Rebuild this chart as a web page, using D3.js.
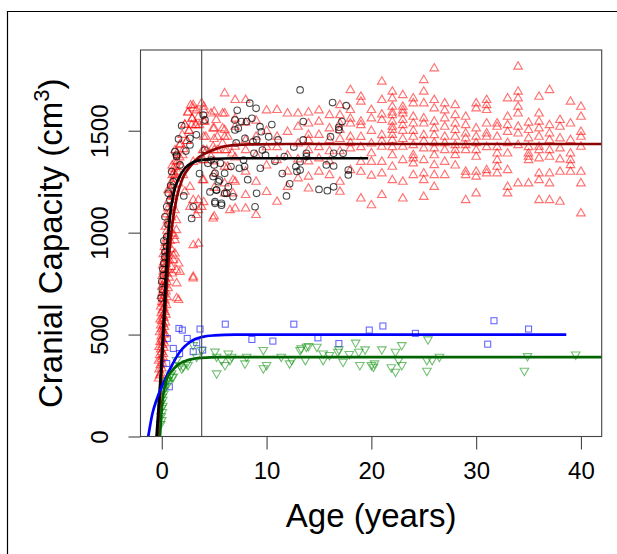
<!DOCTYPE html>
<html>
<head>
<meta charset="utf-8">
<script src="https://d3js.org/d3.v7.min.js"></script>
<style>
  body { margin: 0; background: #fff; }
  svg { display: block; font-family: "Liberation Sans", Arial, Helvetica, sans-serif; }
</style>
</head>
<body>
<div id="viz"></div>
<script>
// ---- data: [age in years, cranial capacity in cm3] ----

// modern humans, fetal / infant strip
var humanYoung = [
  [-0.3,285],[-0.2,300],[-0.1,310],[-0.25,330],[0,335],[-0.15,350],[0.05,360],[-0.3,372],[-0.05,380],[0.1,390],
  [-0.2,400],[0.15,405],[0,415],[-0.1,428],[0.2,435],[-0.25,440],[0.05,450],[0.25,458],[-0.15,465],[0.1,472],
  [0,480],[-0.05,492],[0.2,500],[0.3,505],[-0.2,512],[0.1,520],[0,530],[0.25,538],[-0.1,545],[0.15,552],
  [0.35,560],[0,568],[-0.15,575],[0.2,582],[0.1,590],[0.4,598],[-0.05,605],[0.3,612],[0.05,620],[0.2,630],
  [-0.1,638],[0.45,645],[0.15,652],[0,660],[0.3,668],[0.1,676],[0.5,684],[-0.05,690],[0.25,698],[0.05,705],
  [0.4,712],[0.15,720],[0.6,728],[0,735],[0.3,742],[0.2,750],[0.5,758],[0.1,765],[0.35,772],[0.7,780],
  [0.05,788],[0.25,795],[0.45,802],[0.15,810],[0.6,818],[0.3,825],[0.9,832],[0.1,840],[0.4,848],[0.2,856],
  [0.75,864],[0.5,872],[0.3,880],[1.1,888],[0.15,895],[0.6,903],[0.4,912],[0.9,920],[0.25,930],[0.55,940],
  [0.35,950],[0.8,960],[0.45,972],[1.2,985],[0.6,995],
  [0.5,1010],[0.35,1030],[0.7,1045],[0.55,1060],[0.9,1075],[0.45,1090],[0.8,1105],[0.6,1120],[1.0,1140],
  [0.7,1160],[0.9,1180],[1.2,1195],[0.8,1215],[1.1,1235],[0.95,1250],[1.3,1265],[1.15,1290],[1.5,1300],
  [1.0,1330],[1.3,1350],[1.7,1370],[1.45,1390],[2.1,1410],[1.8,1435],[2.4,1450],[1.95,1480],[2.6,1500],
  [2.2,1530],[2.9,1560],[2.5,1590],[3.3,1600],[2.75,1625]
];

// modern humans, toddlers to ~7 years (ages not on whole years)
var humanChild = [
  [3.0,1626],[3.0,1610],[2.85,1528],[3.3,1528],[1.26,1405],[1.1,1315],[1.4,1324],[1.9,1324],[3.0,1348],
  [1.0,1283],[1.3,1283],[1.6,1242],[2.05,1283],[2.2,1201],[2.7,1225],[2.7,1127],[3.0,1160],[3.5,1160],
  [3.5,1111],[3.8,1127],[3.3,1087],[4.9,1070],[3.0,939],[3.5,947],[3.0,784],[0.6,1209],[1.1,1176],
  [1.26,1111],[1.4,1062],[1.4,1013],[1.0,996],[1.26,964],[1.26,898],[1.1,866],[1.4,816],[1.0,800],
  [1.74,808],[1.6,849],[3.8,1635],[3.5,1569],[4.7,1585],[5.2,1553],[5.8,1585],[5.8,1512],[5.3,1471],
  [4.9,1422],[5.8,1438],[6.3,1471],[4.9,1512],[4.2,1471],[4.1,1545],[4.3,1405],[4.7,1373],[5.3,1405],
  [6.2,1405],[6.7,1389],[6.3,1324],[6.8,1258],[6.8,1193],[6.5,1111],[3.2,1528],[3.6,1528],[3.9,1405],
  [3.9,1356],[3.9,1258],[1.42,752],[1.42,679],[1.6,670],[3.0,776],[2.0,1380],[2.4,1450],[2.6,1500],
  [2.2,1530],[2.9,1560],[2.5,1590],[1.7,1430],[1.5,1350]
];

// modern humans recorded at whole years: [age, [capacities]]
var humanByYear = [
  [4,[1618,1602,1545,1471,1405,1356,1258,1150]],
  [5,[1594,1512,1405,1291,1350,1460,1220,1080]],
  [6,[1684,1585,1504,1471,1405,1242,1324,1193]],
  [7,[1651,1520,1422,1250,1119,1370,1560]],
  [8,[1651,1455,1405,1185,1119,1300,1540]],
  [9,[1471,1087,1380,1550,1250]],
  [10,[1500,1420,1330,1600,1200]],
  [11,[1602,1471,1356,1152,1420]],
  [12,[1585,1495,1225,1380,1300]],
  [13,[1585,1438,1267,1520,1360]],
  [14,[1536,1480,1455,1405,1350,1275,1217,1590]],
  [15,[1545,1480,1420,1365,1300,1600]],
  [16,[1577,1512,1455,1400,1283,1350]],
  [17,[1626,1577,1536,1504,1460,1400,1250,1201]],
  [18,[1700,1602,1536,1471,1414,1307,1440,1560]],
  [19,[1667,1643,1545,1528,1470,1348,1299,1168,1420]],
  [20,[1602,1561,1500,1438,1390,1348,1135,1280]],
  [21,[1741,1651,1580,1553,1479,1450,1422,1348,1291,1185]],
  [22,[1692,1659,1618,1590,1577,1545,1520,1504,1480,1455,1420,1324,1258,1380]],
  [23,[1675,1618,1600,1585,1553,1528,1500,1422,1356,1250,1168,1460]],
  [24,[1659,1635,1569,1536,1500,1471,1381,1365,1340,1283,1430]],
  [25,[1749,1692,1635,1561,1536,1479,1450,1414,1356,1291,1258,1176]],
  [26,[1806,1651,1610,1545,1512,1479,1440,1414,1332,1283,1225,1380]],
  [27,[1635,1600,1561,1520,1471,1440,1405,1348,1283]],
  [28,[1626,1577,1536,1504,1471,1430,1405,1381,1330]],
  [29,[1569,1528,1487,1463,1430,1405,1299,1283,1160]],
  [30,[1635,1610,1512,1471,1405,1373,1299,1275,1193,1440]],
  [31,[1651,1626,1602,1536,1487,1471,1420,1307,1291]],
  [32,[1536,1520,1471,1420,1389,1356,1324,1291]],
  [33,[1659,1569,1528,1495,1440,1389,1307,1225,1193]],
  [34,[1815,1692,1659,1618,1585,1520,1487,1430,1242]],
  [35,[1504,1463,1420,1389,1373,1356,1242,1540]],
  [36,[1667,1585,1545,1512,1471,1422,1405,1365,1291,1258,1160]],
  [37,[1700,1528,1487,1455,1405,1373,1291,1242,1160]],
  [38,[1553,1520,1463,1414,1360,1299,1152]],
  [39,[1643,1536,1455,1389,1356,1332,1299]],
  [40,[1618,1569,1495,1471,1422,1299,1242,1095]]
];

// black circles
var neanderthals = [
  [1.9,1525],[2.69,1463],[2.69,1430],[1.26,1397],[1.42,1381],[1.42,1373],[1.74,1332],[0.94,1300],[0.62,1193],
  [0.78,1160],[0.47,1127],[0.3,1078],[0.47,980],[0.47,931],[0.3,906],[0.3,882],[0.2,850],[0.1,820],[0.15,790],
  [0,760],[0.05,720],[-0.05,680],[0.2,960],[0.6,1040],[0.85,1230],[1.1,1250],[2.85,1070],[3.0,1127],
  [5.08,1152],[5.7,1144],[5.24,1209],[6.2,1193],[4.9,1275],[5.5,1258],[6.35,1225],[3.96,1577],[4.12,1553],
  [6.98,1553],[7.6,1545],[8.1,1545],[8.6,1561],[7.3,1512],[6.98,1504],[9.37,1520],[9.5,1495],[9.05,1455],
  [7.94,1463],[8.7,1446],[9.6,1405],[8.8,1389],[13.2,1700],[13.5,1545],[8.4,1635],[7.2,1600],[9.0,1610],
  [5.08,1291],[5.2,1209],[6.0,1193],[6.8,1176],[5.08,1144],[5.7,1135],[9.05,1193],[8.9,1127],[5.4,1250],
  [6.0,1291],[6.6,1324],[7.4,1316],[7.9,1324],[9.4,1316],[7.8,1356],[5.6,1340],[5.0,1332],[4.7,1356],
  [4.1,1405],[11.1,1455],[11.7,1373],[12.8,1324],[13.5,1455],[13.8,1389],[16.3,1638],[17.6,1623],
  [17.2,1545],[16.9,1517],[16.9,1504],[16.1,1471],[13.8,1373],[16.4,1389],[17.3,1389],[15.7,1332],
  [16.4,1327],[17.8,1307],[17.8,1283],[15.0,1212],[15.8,1206],[16.4,1225],[13.2,1348],[13.2,1307],
  [10.2,1470],[10.8,1350],[11.5,1290],[12.2,1240],[12.6,1420],[10.5,1530],[11.9,1180],[12.9,1300],
  [2.3,1400],[3.3,1480],[4.4,1340],[4.6,1200],[7.1,1440],[8.2,1260],[9.9,1380],[1.6,1460],[2.1,1180],[3.6,1290]
];

// blue squares
var blueSquares = [
  [1.64,530],[1.96,522],[0.53,481],[1.1,432],[2.43,481],[3.33,460],[3.65,527],[6.06,551],[3.0,416],[3.9,424],
  [1.7,407],[0.72,244],[0.47,358],[8.6,476],[10.6,468],[12.6,551],[14.9,484],[16.9,456],[19.8,522],
  [21.1,542],[24.2,506],[31.7,568],[31.1,453],[35.0,527]
];

// green inverted triangles
var greenTris = [
  [-0.1,60],[0,80],[-0.05,100],[0.05,120],[0,140],[0.1,150],[-0.05,165],[0.1,180],[0.05,195],[0.2,210],
  [0.15,225],[0.3,240],[0.25,255],[0.4,270],[0.6,276],[0.8,300],[1.0,290],[1.9,333],[2.5,350],
  [3.8,424],[5.08,416],[5.24,391],[6.35,407],[6.67,391],[5.71,375],[6.03,350],[5.24,309],[6.5,375],
  [7.94,358],[9.69,424],[10.0,350],[9.69,334],[11.4,391],[12.2,358],[12.4,375],[13.2,424],[13.8,440],
  [8.1,391],[1.42,375],[2.05,342],[1.1,293],[0.94,309],[0.62,260],[1.74,350],[2.38,358],[3.0,448],
  [3.33,391],[13.3,432],[14.0,443],[14.8,440],[13.7,375],[15.4,407],[15.4,375],[16.0,399],[16.9,427],
  [16.8,415],[17.3,366],[17.9,404],[18.5,460],[18.8,415],[18.9,350],[19.4,427],[20.0,350],[20.2,342],
  [20.3,358],[21.0,427],[21.9,339],[22.3,317],[22.3,415],[22.6,375],[22.9,448],[22.9,350],[25.3,375],
  [25.3,322],[25.8,375],[25.4,476],[26.5,391],[34.6,322],[34.9,394],[39.5,402]
];

// fitted growth curves, traced point by point
var humanFit = [[-0.39,0],[0.05,380],[0.55,800],[1.0,1040],[1.42,1170],[2.0,1268],[2.69,1323],[3.5,1368],
  [4.28,1392],[5.2,1412],[6.19,1425],[8.4,1433],[12,1435],[42,1435]];
var neanderFit = [[-0.5,0],[0,390],[0.38,768],[0.62,990],[1.1,1185],[1.58,1262],[2.21,1316],[3,1345],
  [3.65,1356],[5,1362],[6.8,1365],[19.7,1365]];
var blueFit = [[-1.29,0],[-0.9,110],[-0.5,180],[0,245],[0.5,300],[1,352],[1.5,398],[2,432],[2.6,460],
  [3.2,478],[3.9,489],[5,496],[7,500],[38.6,500]];
var greenFit = [[-0.17,0],[-0.05,100],[0.1,190],[0.3,250],[0.5,285],[0.94,320],[1.5,350],[2.5,375],
  [3.8,386],[5.5,389],[42,389]];

var cutoffAge = 3.81;
var xTicks = [0, 10, 20, 30, 40],
    yTicks = [0, 500, 1000, 1500];

// ---- drawing ----
var width = 617, height = 554,
    plotLeft = 140.5, plotRight = 601.7, plotTop = 50, plotBottom = 436.5;

var humans = humanYoung.concat(humanChild);
humanByYear.forEach(function(d) {
  d[1].forEach(function(v) { humans.push([d[0], v]); });
});

var x = d3.scaleLinear().domain([-2.03, 41.98]).range([plotLeft, plotRight]);
var y = d3.scaleLinear().domain([0, 1896]).range([plotBottom, plotTop]);

var svg = d3.select('#viz').append('svg')
  .attr('width', width)
  .attr('height', height);

// outer figure frame (only left and top edges show)
svg.append('line').attr('x1', 7.5).attr('x2', 7.5).attr('y1', 11).attr('y2', height)
  .attr('stroke', '#000').attr('stroke-width', 1.2);
svg.append('line').attr('x1', 7).attr('x2', width).attr('y1', 11.5).attr('y2', 11.5)
  .attr('stroke', '#000').attr('stroke-width', 1.2);

svg.append('clipPath').attr('id', 'plotclip')
  .append('rect')
  .attr('x', plotLeft).attr('y', plotTop)
  .attr('width', plotRight - plotLeft).attr('height', plotBottom - plotTop);

var plot = svg.append('g').attr('clip-path', 'url(#plotclip)');

var triUp = 'M0,-4.8L4.3,2.6L-4.3,2.6Z',
    triDown = 'M0,4.8L4.3,-2.6L-4.3,-2.6Z';

plot.append('g').selectAll('path').data(humans)
  .enter().append('path')
    .attr('d', triUp)
    .attr('transform', function(d) { return 'translate(' + x(d[0]) + ',' + y(d[1]) + ')'; })
    .attr('fill', 'none')
    .attr('stroke', 'rgba(255,0,0,0.55)')
    .attr('stroke-width', 1.15);

plot.append('g').selectAll('circle').data(neanderthals)
  .enter().append('circle')
    .attr('cx', function(d) { return x(d[0]); })
    .attr('cy', function(d) { return y(d[1]); })
    .attr('r', 3.3)
    .attr('fill', 'none')
    .attr('stroke', 'rgba(0,0,0,0.7)')
    .attr('stroke-width', 1.1);

plot.append('g').selectAll('rect').data(blueSquares)
  .enter().append('rect')
    .attr('x', function(d) { return x(d[0]) - 3; })
    .attr('y', function(d) { return y(d[1]) - 3; })
    .attr('width', 6)
    .attr('height', 6)
    .attr('fill', 'none')
    .attr('stroke', 'rgba(0,0,255,0.6)')
    .attr('stroke-width', 1.1);

plot.append('g').selectAll('path').data(greenTris)
  .enter().append('path')
    .attr('d', triDown)
    .attr('transform', function(d) { return 'translate(' + x(d[0]) + ',' + y(d[1]) + ')'; })
    .attr('fill', 'none')
    .attr('stroke', 'rgba(0,140,0,0.55)')
    .attr('stroke-width', 1.1);

var line = d3.line()
  .x(function(d) { return x(d[0]); })
  .y(function(d) { return y(d[1]); })
  .curve(d3.curveMonotoneX);

var fits = [
  { pts: humanFit, color: '#8b0000' },
  { pts: neanderFit, color: '#000000' },
  { pts: blueFit, color: '#0000ff' },
  { pts: greenFit, color: '#006400' }
];

plot.selectAll('.fit').data(fits)
  .enter().append('path')
    .attr('class', 'fit')
    .attr('d', function(d) { return line(d.pts); })
    .attr('fill', 'none')
    .attr('stroke', function(d) { return d.color; })
    .attr('stroke-width', 2.7);

// vertical cut-off line
svg.append('line')
  .attr('x1', x(cutoffAge)).attr('x2', x(cutoffAge))
  .attr('y1', plotTop).attr('y2', plotBottom)
  .attr('stroke', '#444').attr('stroke-width', 1.1);

// plot box
svg.append('rect')
  .attr('x', plotLeft).attr('y', plotTop)
  .attr('width', plotRight - plotLeft).attr('height', plotBottom - plotTop)
  .attr('fill', 'none')
  .attr('stroke', '#444')
  .attr('stroke-width', 1.1);

// axes
var xAxis = svg.append('g')
  .attr('transform', 'translate(0,' + plotBottom + ')')
  .call(d3.axisBottom(x).tickValues(xTicks).tickSize(13).tickPadding(12).tickSizeOuter(0));
xAxis.select('.domain').remove();
xAxis.selectAll('line').attr('stroke', '#444').attr('stroke-width', 1.1);
xAxis.selectAll('text').attr('fill', '#000').style('font-size', '24px')
  .style('font-family', '"Liberation Sans", Arial, sans-serif');

var yAxis = svg.append('g')
  .attr('transform', 'translate(' + plotLeft + ',0)')
  .call(d3.axisLeft(y).tickValues(yTicks).tickFormat(d3.format('d')).tickSize(12).tickSizeOuter(0));
yAxis.select('.domain').remove();
yAxis.selectAll('line').attr('stroke', '#444').attr('stroke-width', 1.1);
yAxis.selectAll('text')
  .attr('x', 0).attr('y', -32.2).attr('dy', null)
  .attr('transform', 'rotate(-90)')
  .attr('text-anchor', 'middle')
  .attr('fill', '#000')
  .style('font-size', '24px')
  .style('font-family', '"Liberation Sans", Arial, sans-serif');

// titles
svg.append('text')
  .attr('x', (plotLeft + plotRight) / 2)
  .attr('y', 527)
  .attr('text-anchor', 'middle')
  .style('font-size', '33px')
  .text('Age (years)');

var yTitle = svg.append('text')
  .attr('transform', 'translate(62,' + ((plotTop + plotBottom) / 2) + ') rotate(-90)')
  .attr('text-anchor', 'middle')
  .style('font-size', '33px');
yTitle.append('tspan').text('Cranial Capacity (cm');
yTitle.append('tspan').attr('dy', -13).style('font-size', '22px').text('3');
yTitle.append('tspan').attr('dy', 13).text(')');
</script>
</body>
</html>
